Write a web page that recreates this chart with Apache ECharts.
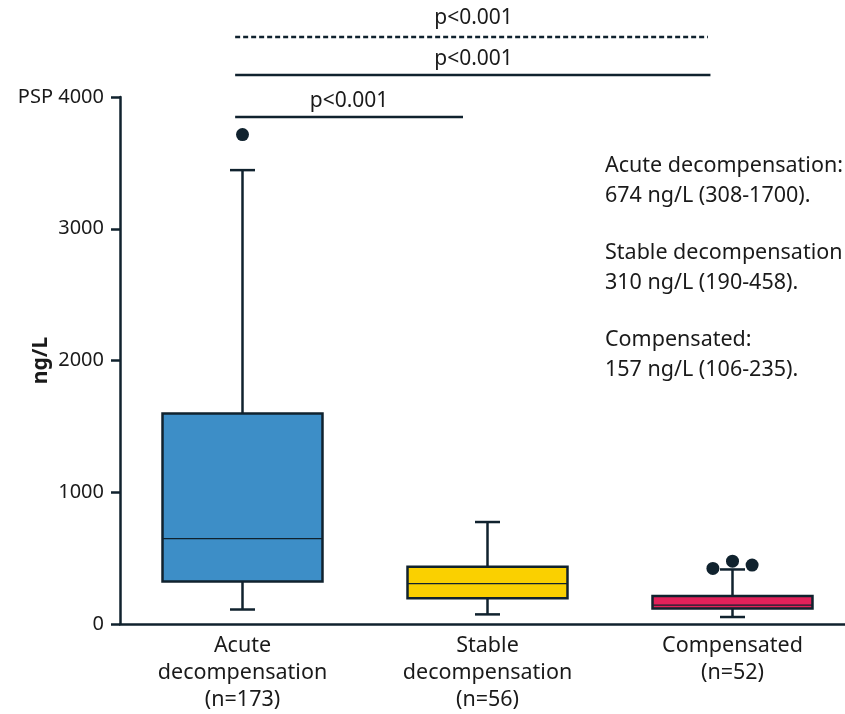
<!DOCTYPE html>
<html>
<head>
<meta charset="utf-8">
<script src="https://cdn.jsdelivr.net/npm/echarts@6/dist/echarts.min.js"></script>
<style>html,body{margin:0;padding:0;background:#fff;}#c{width:845px;height:714px;}</style>
</head>
<body>
<div id="c"></div>
<script>
const categories = ['Acute\ndecompensation\n(n=173)', 'Stable\ndecompensation\n(n=56)', 'Compensated\n(n=52)'];
const boxMin = [110, 73, 53];
const boxQ1 = [322, 196, 118];
const boxMedian = [648, 307, 143];
const boxQ3 = [1598, 435, 213];
const boxMax = [3445, 774, 414];
const boxColors = ['#3d8ec7', '#fad000', '#e2215a'];
const outlierX = [0, 1.92, 2.0, 2.08];
const outlierY = [3715, 422, 477, 447];
const sigLabel = 'p<0.001';
const sigStartX = [-0.03, -0.03, -0.03];
const sigEndX = [0.9, 1.91, 1.9];
const sigY = [3848, 4167, 4455];
const sigDashed = [false, false, true];
const sigLabelX = [0.435, 0.943, 0.943];
const sigLabelY = [3970, 4288, 4600];
const yTicks = [0, 1000, 2000, 3000, 4000];
const notes = [
  'Acute decompensation:\n674 ng/L (308-1700).',
  'Stable decompensation\n310 ng/L (190-458).',
  'Compensated:\n157 ng/L (106-235).'
];

const INK = '#10222e';
const TXT = '#1a1a1a';
const FONT = 'Noto Sans';

const chart = echarts.init(document.getElementById('c'), null, {renderer: 'canvas'});

const boxData = categories.map((c, i) => [i, boxMin[i], boxQ1[i], boxMedian[i], boxQ3[i], boxMax[i]]);

const series = [
  {
    type: 'custom',
    xAxisIndex: 0,
    yAxisIndex: 0,
    encode: {x: 0, y: [1, 2, 3, 4, 5]},
    data: boxData,
    z: 3,
    renderItem: function (params, api) {
      const i = api.value(0);
      const cx = api.coord([i, 0])[0];
      const band = api.size([1, 0])[0];
      const bw = band * 0.653;
      const cw = band * 0.102;
      const yMin = api.coord([i, api.value(1)])[1];
      const yQ1 = api.coord([i, api.value(2)])[1];
      const yMed = api.coord([i, api.value(3)])[1];
      const yQ3 = api.coord([i, api.value(4)])[1];
      const yMax = api.coord([i, api.value(5)])[1];
      const ls = {stroke: INK, lineWidth: 2.5};
      return {
        type: 'group',
        children: [
          {type: 'line', shape: {x1: cx, y1: yMax, x2: cx, y2: yQ3}, style: ls},
          {type: 'line', shape: {x1: cx - cw / 2, y1: yMax, x2: cx + cw / 2, y2: yMax}, style: ls},
          {type: 'line', shape: {x1: cx, y1: yQ1, x2: cx, y2: yMin}, style: ls},
          {type: 'line', shape: {x1: cx - cw / 2, y1: yMin, x2: cx + cw / 2, y2: yMin}, style: ls},
          {type: 'rect', shape: {x: cx - bw / 2, y: yQ3, width: bw, height: yQ1 - yQ3},
            style: {fill: boxColors[params.dataIndex], stroke: INK, lineWidth: 2.5}},
          {type: 'line', shape: {x1: cx - bw / 2, y1: yMed, x2: cx + bw / 2, y2: yMed},
            style: {stroke: INK, lineWidth: 1.2}}
        ]
      };
    }
  },
  {
    type: 'scatter',
    xAxisIndex: 1,
    yAxisIndex: 0,
    data: outlierX.map((x, i) => [x, outlierY[i]]),
    symbol: 'circle',
    symbolSize: 13,
    itemStyle: {color: INK, opacity: 1},
    clip: false,
    z: 4
  }
];

sigY.forEach((y, k) => {
  series.push({
    type: 'line',
    xAxisIndex: 1,
    yAxisIndex: 0,
    data: [[sigStartX[k], y], [sigEndX[k], y]],
    symbol: 'none',
    clip: false,
    lineStyle: {color: INK, width: 2.5, type: sigDashed[k] ? [5, 3] : 'solid'},
    silent: true,
    z: 5
  });
});

series.push({
  type: 'scatter',
  xAxisIndex: 1,
  yAxisIndex: 0,
  data: sigLabelX.map((x, i) => [x, sigLabelY[i]]),
  symbolSize: 0,
  clip: false,
  silent: true,
  itemStyle: {opacity: 1},
  label: {
    show: true,
    position: 'inside',
    formatter: sigLabel,
    color: TXT,
    fontSize: 21,
    fontFamily: FONT
  }
});

const option = {
  backgroundColor: '#ffffff',
  animation: false,
  title: notes.map((t, i) => ({
    text: t,
    left: 605,
    top: [151, 238, 325][i],
    padding: 0,
    textStyle: {fontFamily: FONT, fontSize: 21.5, fontWeight: 'normal', color: TXT, lineHeight: 30}
  })),
  grid: {left: 120, right: -10, top: 97, bottom: 90, containLabel: false, outerBoundsMode: 'none'},
  xAxis: [
    {
      type: 'category',
      data: categories,
      boundaryGap: true,
      axisLine: {show: true, onZero: false, lineStyle: {color: INK, width: 2.5}},
      axisTick: {show: false},
      splitLine: {show: false},
      axisLabel: {
        color: TXT, fontSize: 21.5, fontFamily: FONT, lineHeight: 27, margin: 8, interval: 0
      }
    },
    {
      type: 'value',
      min: -0.5,
      max: 2.5,
      show: false,
      axisLine: {onZero: false},
      splitLine: {show: false}
    }
  ],
  yAxis: {
    type: 'value',
    min: 0,
    max: 4000,
    interval: 1000,
    name: 'ng/L',
    nameLocation: 'middle',
    nameGap: 68,
    nameRotate: 90,
    nameMoveOverlap: false,
    nameTextStyle: {fontFamily: FONT, fontSize: 21, fontWeight: 'bold', color: TXT},
    axisLine: {show: true, onZero: false, lineStyle: {color: INK, width: 2.5}},
    axisTick: {show: true, length: 9, lineStyle: {color: INK, width: 2.5}},
    splitLine: {show: false},
    axisLabel: {
      color: TXT, fontSize: 20, fontFamily: FONT, margin: 16,
      formatter: function (v) { return v === yTicks[yTicks.length - 1] ? 'PSP ' + v : String(v); }
    }
  },
  series: series
};

chart.setOption(option);
</script>
</body>
</html>
